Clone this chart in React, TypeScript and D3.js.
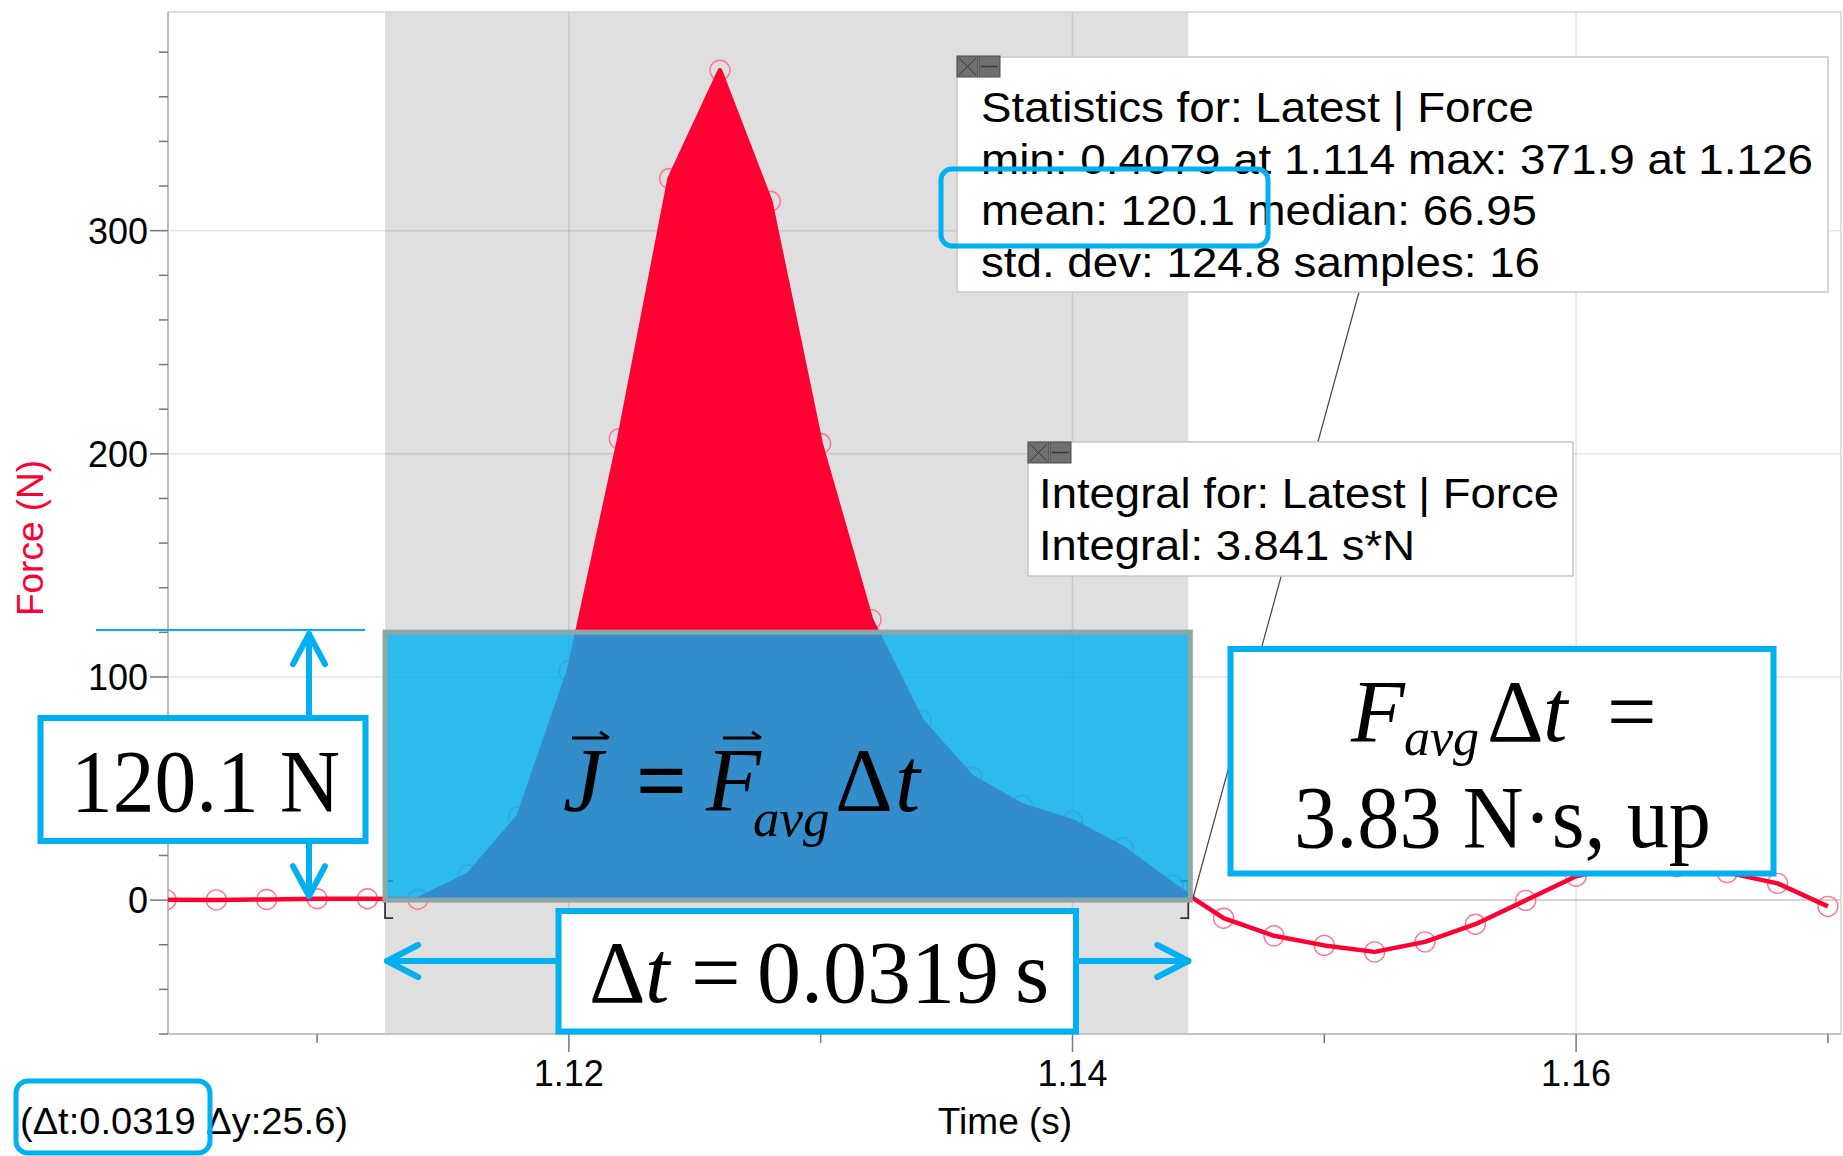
import React, { useEffect } from 'react';
import * as d3 from 'd3';

// sample times (s) and force readings (N)
const times = [
  1.104, 1.106, 1.108, 1.11, 1.112, 1.114, 1.116, 1.118, 1.12, 1.122, 1.124, 1.126,
  1.128, 1.13, 1.132, 1.134, 1.136, 1.138, 1.14, 1.142, 1.144, 1.146, 1.148, 1.15,
  1.152, 1.154, 1.156, 1.158, 1.16, 1.162, 1.164, 1.166, 1.168, 1.17,
];
const force = [
  0.2, 0.1, 0.3, 0.6, 0.6, 0.4, 11.3, 37.5, 102.7, 206.8, 323.4, 371.9,
  313.2, 204.6, 125.7, 80.5, 55.2, 42.4, 35.3, 23.4, 6.7, -8.1, -16.0, -20.3,
  -23.2, -18.7, -10.8, -0.1, 10.7, 16.0, 15.0, 12.3, 7.5, -2.8,
];
const selection = [1.1127, 1.1446];
const meanForce = 120.1;

const xMajorTicks = [1.12, 1.14, 1.16];
const xMinorTicks = [1.11, 1.13, 1.15, 1.17];
const yMajorTicks = [0, 100, 200, 300];
const yMinorTicks = [-60, -40, -20, 20, 40, 60, 80, 120, 140, 160, 180, 220, 240, 260, 280, 320, 340, 360, 380];

const statsLines = [
  'Statistics for: Latest | Force',
  'min: 0.4079 at 1.114 max: 371.9 at 1.126',
  'mean: 120.1 median: 66.95',
  'std. dev: 124.8 samples: 16',
];
const statsWidths = [553, 832, 556, 559];
const integralLines = ['Integral for: Latest | Force', 'Integral: 3.841 s*N'];
const integralWidths = [520, 376];

const W = 1843;
const H = 1156;
const plot = { left: 168, right: 1841, top: 12, bottom: 1034 };

const SANS = "'Liberation Sans', Arial, sans-serif";
const SERIF = "'Liberation Serif', 'Times New Roman', serif";
const RED = '#ff0033';
const BLUE = '#00b0f0';

const x = d3.scaleLinear().domain([1.10408, 1.17052]).range([plot.left, plot.right]);
const y = d3.scaleLinear().domain([-60, 398]).range([plot.bottom, plot.top]);

const line = d3.line<number>().x((d, i) => x(times[i])).y((d) => y(d));
const area = d3.area<number>().x((d, i) => x(times[i])).y0(y(0)).y1((d) => y(d));

const Icons = ({ px, py }: { px: number; py: number }) => (
  <g>
    <rect x={px} y={py} width={21} height={21} fill="#707070" stroke="#4a4a4a" strokeWidth={1} />
    <path d={`M${px + 2},${py + 2}L${px + 19},${py + 19}M${px + 19},${py + 2}L${px + 2},${py + 19}`} stroke="#3a3a3a" strokeWidth={1} />
    <rect x={px + 22} y={py} width={21} height={21} fill="#707070" stroke="#4a4a4a" strokeWidth={1} />
    <line x1={px + 24} x2={px + 41} y1={py + 10.5} y2={py + 10.5} stroke="#3a3a3a" strokeWidth={1.5} />
  </g>
);

const App: React.FC = () => {
  useEffect(() => {
    document.body.style.margin = '0';
  }, []);

  const sx0 = x(selection[0]);
  const sx1 = x(selection[1]);
  const y0 = y(0);
  const yMean = y(meanForce);
  const arrowX = 309;
  const arrowY = 961;

  return (
    <svg width={W} height={H} style={{ display: 'block', background: '#fff' }}>
      <defs>
        <clipPath id="plotClip">
          <rect x={plot.left} y={plot.top} width={plot.right - plot.left} height={plot.bottom - plot.top} />
        </clipPath>
        <clipPath id="selClip">
          <rect x={sx0} y={plot.top} width={sx1 - sx0} height={plot.bottom - plot.top} />
        </clipPath>
      </defs>

      {/* selected region */}
      <rect x={sx0} y={plot.top} width={sx1 - sx0} height={plot.bottom - plot.top} fill="#dfdfdf" />

      {/* grid */}
      {xMajorTicks.map((t) => (
        <line key={'gx' + t} x1={x(t)} x2={x(t)} y1={plot.top} y2={plot.bottom} stroke="#000" strokeOpacity={0.1} strokeWidth={1.5} />
      ))}
      {yMajorTicks.map((v) => (
        <line key={'gy' + v} x1={plot.left} x2={plot.right} y1={y(v)} y2={y(v)} stroke="#000" strokeOpacity={v === 0 ? 0.22 : 0.1} strokeWidth={1.5} />
      ))}

      {/* frame */}
      <rect x={plot.left} y={plot.top} width={plot.right - plot.left} height={plot.bottom - plot.top} fill="none" stroke="#d2d2d2" strokeWidth={1.5} />
      <line x1={plot.left} x2={plot.left} y1={plot.top} y2={plot.bottom} stroke="#bdbdbd" strokeWidth={2} />
      <line x1={plot.left} x2={plot.right} y1={plot.bottom} y2={plot.bottom} stroke="#c4c4c4" strokeWidth={2} />

      {/* y axis */}
      {yMajorTicks.map((v) => (
        <g key={'ty' + v}>
          <line x1={plot.left - 18} x2={plot.left} y1={y(v)} y2={y(v)} stroke="#777" strokeWidth={1.5} />
          <text x={plot.left - 20} y={y(v)} dy="0.36em" textAnchor="end" fontFamily={SANS} fontSize={36} fill="#000">
            {v}
          </text>
        </g>
      ))}
      {yMinorTicks.map((v) => (
        <line key={'my' + v} x1={plot.left - 9} x2={plot.left} y1={y(v)} y2={y(v)} stroke="#777" strokeWidth={1.5} />
      ))}
      <text transform="translate(43,538) rotate(-90)" textAnchor="middle" fontFamily={SANS} fontSize={37} fill={RED}>
        Force (N)
      </text>

      {/* x axis */}
      {xMajorTicks.map((t) => (
        <g key={'tx' + t}>
          <line x1={x(t)} x2={x(t)} y1={plot.bottom} y2={plot.bottom + 18} stroke="#777" strokeWidth={1.5} />
          <text x={x(t)} y={1086} textAnchor="middle" fontFamily={SANS} fontSize={36} fill="#000">
            {t.toFixed(2)}
          </text>
        </g>
      ))}
      {xMinorTicks.map((t) => (
        <line key={'mx' + t} x1={x(t)} x2={x(t)} y1={plot.bottom} y2={plot.bottom + 9} stroke="#777" strokeWidth={1.5} />
      ))}
      <text x={1005} y={1134} textAnchor="middle" fontFamily={SANS} fontSize={37} fill="#000">
        Time (s)
      </text>

      {/* data */}
      <g clipPath="url(#plotClip)">
        {force.map((f, i) => (
          <circle key={'c' + i} cx={x(times[i])} cy={y(f)} r={10} fill="none" stroke="#ff7590" strokeWidth={1.4} />
        ))}
        <path d={area(force) || ''} fill={RED} clipPath="url(#selClip)" />
        <path d={line(force) || ''} fill="none" stroke={RED} strokeWidth={4.5} strokeLinejoin="round" />
      </g>

      {/* selection brackets */}
      <path d={`M${sx0 + 8},${y0 - 19}H${sx0}V${y0 + 18}H${sx0 + 8}`} fill="none" stroke="#333" strokeWidth={1.8} />
      <path d={`M${sx1 - 8},${y0 - 19}H${sx1}V${y0 + 18}H${sx1 - 8}`} fill="none" stroke="#333" strokeWidth={1.8} />

      {/* leader line from statistics box */}
      <line x1={1359} y1={292} x2={1193} y2={898} stroke="#444" strokeWidth={1.2} />

      {/* impulse rectangle = mean force x delta t */}
      <rect x={sx0} y={yMean} width={sx1 - sx0 + 2} height={y0 - yMean} fill={BLUE} fillOpacity={0.8} stroke="#8fa6a6" strokeWidth={5} />

      {/* J = F_avg dt */}
      <g fontFamily={SERIF} fill="#000">
        <text fontSize={90}>
          <tspan x={563} y={811} fontStyle="italic">J</tspan>
          <tspan x={636} y={811} fontWeight="bold">=</tspan>
          <tspan x={706} y={811} fontStyle="italic">F</tspan>
          <tspan x={753} y={836} fontSize={53} fontStyle="italic">avg</tspan>
          <tspan x={835} y={811}>Δ</tspan>
          <tspan x={895} y={811} fontStyle="italic">t</tspan>
        </text>
        <path d="M572,738H608M600,732L609,738" fill="none" stroke="#000" strokeWidth={3} />
        <path d="M723,738H760M752,732L761,738" fill="none" stroke="#000" strokeWidth={3} />
      </g>

      {/* statistics box */}
      <rect x={957} y={57} width={871} height={235} fill="#fff" stroke="#c8c8c8" strokeWidth={1.5} />
      <Icons px={957} py={56} />
      {statsLines.map((s, i) => (
        <text key={'s' + i} x={981} y={122 + i * 51.7} fontFamily={SANS} fontSize={42} fill="#000" textLength={statsWidths[i]} lengthAdjust="spacingAndGlyphs">
          {s}
        </text>
      ))}
      <rect x={941} y={169} width={327} height={77} rx={11} fill="none" stroke={BLUE} strokeWidth={5} />

      {/* integral box */}
      <rect x={1028} y={442} width={545} height={134} fill="#fff" stroke="#c8c8c8" strokeWidth={1.5} />
      <Icons px={1028} py={442} />
      {integralLines.map((s, i) => (
        <text key={'n' + i} x={1039} y={508 + i * 51.5} fontFamily={SANS} fontSize={42} fill="#000" textLength={integralWidths[i]} lengthAdjust="spacingAndGlyphs">
          {s}
        </text>
      ))}

      {/* vertical arrow: mean force */}
      <line x1={96} x2={365} y1={yMean - 2} y2={yMean - 2} stroke={BLUE} strokeWidth={2} />
      <g fill="none" stroke={BLUE} strokeWidth={6} strokeLinecap="round" strokeLinejoin="round">
        <line x1={arrowX} x2={arrowX} y1={yMean + 2} y2={y0 - 4} />
        <polyline points={`${arrowX - 16},${yMean + 32} ${arrowX},${yMean + 2} ${arrowX + 16},${yMean + 32}`} />
        <polyline points={`${arrowX - 16},${y0 - 34} ${arrowX},${y0 - 4} ${arrowX + 16},${y0 - 34}`} />
        <line x1={sx0 + 2} x2={sx1} y1={arrowY} y2={arrowY} />
        <polyline points={`${sx0 + 33},${arrowY - 16} ${sx0 + 2},${arrowY} ${sx0 + 33},${arrowY + 16}`} />
        <polyline points={`${sx1 - 31},${arrowY - 16} ${sx1},${arrowY} ${sx1 - 31},${arrowY + 16}`} />
      </g>

      {/* 120.1 N box */}
      <rect x={40.5} y={718} width={325} height={123} fill="#fff" stroke={BLUE} strokeWidth={6} />
      <text x={71} y={811} fontFamily={SERIF} fontSize={88} fill="#000" textLength={269} lengthAdjust="spacingAndGlyphs">
        120.1 N
      </text>

      {/* delta t box */}
      <rect x={558.5} y={911} width={517.5} height={120.5} fill="#fff" stroke={BLUE} strokeWidth={6} />
      <text fontFamily={SERIF} fontSize={88} fill="#000">
        <tspan x={589} y={1002}>Δ</tspan>
        <tspan x={645} y={1002} fontStyle="italic">t</tspan>
        <tspan x={691} y={1002}>=</tspan>
        <tspan x={757} y={1002}>0.0319</tspan>
        <tspan x={1015} y={1002}>s</tspan>
      </text>

      {/* F_avg dt box */}
      <rect x={1230.5} y={649} width={543} height={224.5} fill="#fff" stroke={BLUE} strokeWidth={6} />
      <g fontFamily={SERIF} fill="#000">
        <text fontSize={88}>
          <tspan x={1351} y={741} fontStyle="italic">F</tspan>
          <tspan x={1404} y={755} fontSize={52} fontStyle="italic">avg</tspan>
          <tspan x={1487} y={741}>Δ</tspan>
          <tspan x={1543} y={741} fontStyle="italic">t</tspan>
          <tspan x={1607} y={741}>=</tspan>
        </text>
        <text x={1294} y={847} fontSize={88} textLength={417} lengthAdjust="spacingAndGlyphs">3.83 N·s, up</text>
      </g>

      {/* cursor readout */}
      <text x={20} y={1134} fontFamily={SANS} fontSize={37} fill="#000" textLength={328} lengthAdjust="spacingAndGlyphs">
        (Δt:0.0319 Δy:25.6)
      </text>
      <rect x={16} y={1081} width={194} height={72} rx={12} fill="none" stroke={BLUE} strokeWidth={5} />
    </svg>
  );
};

export default App;
